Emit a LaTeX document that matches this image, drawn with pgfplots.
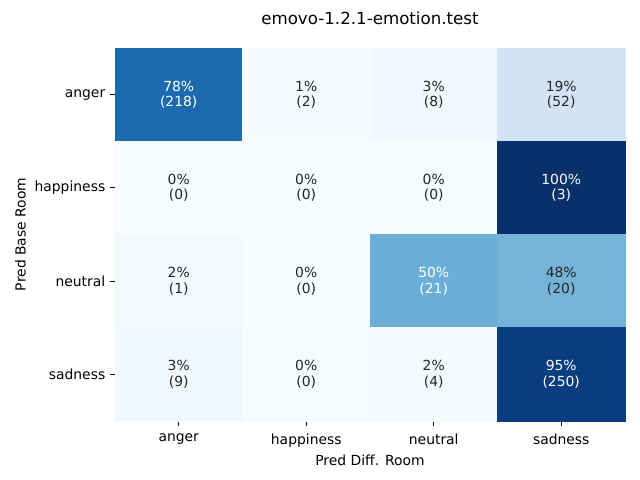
\documentclass[border=0pt]{standalone}
\usepackage{pgfplots}
\pgfplotsset{compat=1.18}
\usepackage{fontspec}
\setmainfont{DejaVu Sans}
\begin{document}
\begin{tikzpicture}[x=1pt,y=1pt]
\useasboundingbox (0,0) rectangle (460.8,345.6);
\begin{axis}[
  at={(82.8pt,42.48pt)}, anchor=south west,
  scale only axis, width=367.2pt, height=268.56pt,
  xmin=-0.5, xmax=3.5, ymin=-0.5, ymax=3.5, y dir=reverse,
  xtick={0,1,2,3}, ytick={0,1,2,3},
  xticklabels={anger,happiness,neutral,sadness},
  yticklabels={anger,happiness,neutral,sadness},
  axis line style={draw=none},
  tick align=outside, major tick length=3.5pt,
  xtick pos=bottom, ytick pos=left,
  tick style={black, line width=0.6pt},
  ticklabel style={font=\fontsize{10}{12}\selectfont},
  xticklabel style={yshift=-2pt},
  xlabel={Pred Diff. Room}, ylabel={Pred Base Room},
  label style={font=\fontsize{10}{12}\selectfont},
  xlabel style={yshift=1pt},
  ylabel style={yshift=-0.5pt},
  title={emovo-1.2.1-emotion.test},
  title style={font=\fontsize{12}{14}\selectfont, yshift=7pt},
  colormap={blues}{rgb255=(247,251,255) rgb255=(222,235,247) rgb255=(198,219,239) rgb255=(158,202,225) rgb255=(107,174,214) rgb255=(66,146,198) rgb255=(33,113,181) rgb255=(8,81,156) rgb255=(8,48,107)},
  point meta min=0, point meta max=100,
  clip=false,
]
\addplot[matrix plot*, mesh/cols=4, point meta=explicit, draw=none] table[meta=c] {
x y c
0 0 77.86
1 0 0.71
2 0 2.86
3 0 18.57
0 1 0
1 1 0
2 1 0
3 1 100
0 2 2.38
1 2 0
2 2 50
3 2 47.62
0 3 3.42
1 3 0
2 3 1.52
3 3 95.06
};
% black text
\addplot[draw=none, mark=none,
  visualization depends on={value \thisrow{p}\as\pct},
  visualization depends on={value \thisrow{n}\as\cnt},
  nodes near coords={\pct\%\\(\cnt)},
  nodes near coords align={center},
  every node near coord/.append style={anchor=center, align=center, text=black!85, font=\fontsize{10}{11}\selectfont}]
table {
x y p n
1 0 1 2
2 0 3 8
3 0 19 52
0 1 0 0
1 1 0 0
2 1 0 0
0 2 2 1
1 2 0 0
3 2 48 20
0 3 3 9
1 3 0 0
2 3 2 4
};
% white text
\addplot[draw=none, mark=none,
  visualization depends on={value \thisrow{p}\as\pct},
  visualization depends on={value \thisrow{n}\as\cnt},
  nodes near coords={\pct\%\\(\cnt)},
  nodes near coords align={center},
  every node near coord/.append style={anchor=center, align=center, text=white, font=\fontsize{10}{11}\selectfont}]
table {
x y p n
0 0 78 218
3 1 100 3
2 2 50 21
3 3 95 250
};
\end{axis}
\end{tikzpicture}
\end{document}
